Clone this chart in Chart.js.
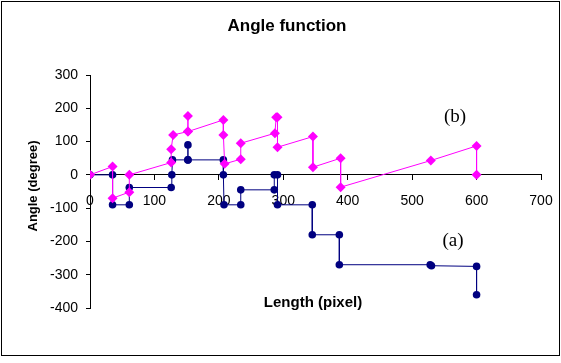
<!DOCTYPE html>
<html>
<head>
<meta charset="utf-8">
<script src="https://cdn.jsdelivr.net/npm/chart.js@4/dist/chart.umd.min.js"></script>
<style>
  body { margin: 0; background: #fff; }
  #wrap { position: relative; width: 561px; height: 363px; }
  #frame { position: absolute; left: 1px; top: 1px; width: 557px; height: 353px; border: 1px solid #000; }
  .txt { position: absolute; font-family: "Liberation Sans", Arial, sans-serif; color: #000; white-space: nowrap; }
  .bold { font-weight: bold; }
  .serif { font-family: "Liberation Serif", "Times New Roman", serif; }
</style>
</head>
<body>
<div id="wrap">
  <canvas id="chart" width="561" height="363"></canvas>
  <div id="frame"></div>
  <div class="txt bold" style="left:0; width:574px; top:16px; text-align:center; font-size:17px;">Angle function</div>
  <div class="txt bold" style="left:32px; top:186px; font-size:13px; transform:translate(-50%,-50%) rotate(-90deg);">Angle (degree)</div>
  <div class="txt bold" style="left:313px; top:301px; font-size:15px; transform:translate(-50%,-50%);">Length (pixel)</div>
  <div class="txt serif" style="left:455px; top:116px; font-size:19px; transform:translate(-50%,-50%);">(b)</div>
  <div class="txt serif" style="left:453px; top:240px; font-size:19px; transform:translate(-50%,-50%);">(a)</div>
</div>
<script>
// series (a): original angle function
const aLength = [0, 35, 35, 61, 61, 126, 127, 128, 152, 152, 152, 207, 207, 208, 234, 234, 286, 286, 291, 291, 345, 345, 387, 387, 528, 530, 600, 600];
const aAngle  = [0, 0, -90, -90, -38, -38, 0, 45, 45, 90, 45, 45, 0, -90, -90, -45, -45, 0, 0, -90, -90, -180, -180, -270, -270, -273, -275, -360];

// series (b)
const bLength = [0, 35, 35, 61, 61, 126, 126, 129, 152, 152, 152, 207, 207, 209, 234, 234, 287, 289, 291, 291, 346, 346, 389, 389, 529, 600, 600];
const bAngle  = [0, 25, -70, -52, 0, 37, 77, 120, 130, 177, 130, 165, 120, 33, 47, 95, 125, 173, 173, 83, 115, 23, 50, -37, 43, 87, 0];

const xTicks = [0, 100, 200, 300, 400, 500, 600, 700];
const yTicks = [-400, -300, -200, -100, 0, 100, 200, 300];

const toPoints = (xs, ys) => xs.map((x, i) => ({ x, y: ys[i] }));
const tickFont = { family: 'Liberation Sans, Arial, sans-serif', size: 14 };

new Chart(document.getElementById('chart'), {
  type: 'scatter',
  data: {
    datasets: [
      {
        label: '(b)',
        data: toPoints(bLength, bAngle),
        showLine: true,
        borderColor: '#ff00ff',
        backgroundColor: '#ff00ff',
        borderWidth: 1,
        pointStyle: 'rectRot',
        pointRadius: 5,
        pointBorderWidth: 0,
      },
      {
        label: '(a)',
        data: toPoints(aLength, aAngle),
        showLine: true,
        borderColor: '#000080',
        backgroundColor: '#000080',
        borderWidth: 1,
        pointStyle: 'circle',
        pointRadius: 3.8,
        pointBorderWidth: 0,
      }
    ]
  },
  options: {
    responsive: false,
    animation: false,
    layout: { autoPadding: false, padding: { left: 0, right: 20, top: 75, bottom: 55 } },
    plugins: {
      legend: { display: false },
      tooltip: { enabled: false },
      title: { display: false }
    },
    scales: {
      x: {
        type: 'linear',
        position: { y: 0 },
        min: 0,
        max: 700,
        afterBuildTicks: s => { s.ticks = xTicks.map(v => ({ value: v })); },
        // labels sit inside the frame, don't let them squeeze the plot
        afterFit: s => { s.paddingLeft = 0; s.paddingRight = 0; },
        grid: { drawOnChartArea: false, tickLength: 5, color: '#000' },
        border: { color: '#000', width: 1 },
        ticks: { color: '#000', font: tickFont, padding: 13, maxRotation: 0 }
      },
      y: {
        type: 'linear',
        position: 'left',
        min: -400,
        max: 300,
        afterBuildTicks: s => { s.ticks = yTicks.map(v => ({ value: v })); },
        afterFit: s => { s.width = 90; },
        grid: { drawOnChartArea: false, tickLength: 4, color: '#000' },
        border: { color: '#000', width: 1 },
        ticks: { color: '#000', font: tickFont, padding: 8 }
      }
    }
  }
});
</script>
</body>
</html>
